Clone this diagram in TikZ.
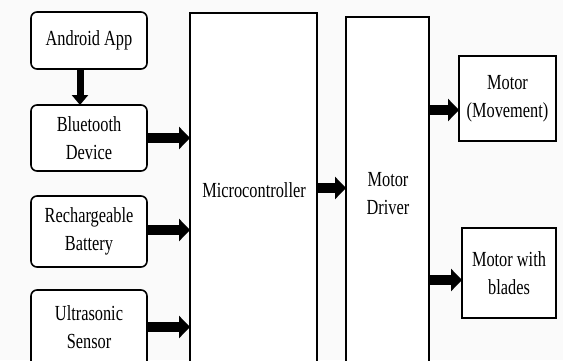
\documentclass[tikz,border=0pt]{standalone}
\usepackage{fontspec}
\setmainfont[FakeStretch=0.76]{Liberation Serif}
\usetikzlibrary{arrows.meta}
\begin{document}
\begin{tikzpicture}[x=1pt,y=-1pt,
  every node/.style={font=\fontsize{21.5}{28}\selectfont, align=center},
  rbox/.style={draw, line width=1.6pt, fill=white, rounded corners=6pt},
  sbox/.style={draw, line width=1.6pt, fill=white},
  fat/.style={line width=10pt, -{Triangle[length=11pt,width=22pt]}},
]
  % canvas
  \fill[black!2] (0,0) rectangle (563,360);
  \useasboundingbox (0,0) rectangle (563,360);

  % input blocks (rounded)
  \draw[rbox] (31,12) rectangle (147,69);
  \node (app) at (89,40.5) {Android App};
  \coordinate (appS) at (80,69);
  \draw[rbox] (31,105) rectangle (147,171);
  \node (bt) at (89,138) {Bluetooth\\Device};
  \coordinate (btN) at (80,105);
  \coordinate (btE) at (147,138);
  \draw[rbox] (31,196) rectangle (147,267);
  \node (bat) at (89,231) {Rechargeable\\Battery};
  \coordinate (batE) at (147,230);
  \draw[rbox] (31,290) rectangle (147,380);
  \node (us) at (89,327) {Ultrasonic\\Sensor};
  \coordinate (usE) at (147,327);

  % controller and driver
  \draw[sbox] (190,13) rectangle (317,375);
  \node (mc) at (254,190) {Microcontroller};
  \coordinate (mcW1) at (190,138);
  \coordinate (mcW2) at (190,230);
  \coordinate (mcW3) at (190,327);
  \coordinate (mcE) at (317,188);
  \draw[sbox] (346,17) rectangle (429,375);
  \node (drv) at (388,194) {Motor\\Driver};
  \coordinate (drvW) at (346,188);
  \coordinate (drvE1) at (429,110);
  \coordinate (drvE2) at (429,280);

  % outputs (square corners)
  \draw[sbox] (459,56) rectangle (556,141);
  \node (mov) at (507.5,98.5) {Motor\\(Movement)};
  \coordinate (movW) at (459,110);
  \draw[sbox] (462,228) rectangle (556,318);
  \node (bl) at (509,273) {Motor with\\blades};
  \coordinate (blW) at (462,280);

  % connectors
  \draw[line width=7pt, -{Triangle[length=10pt,width=16pt]}] (appS) -- (btN);
  \draw[fat] (btE) -- (mcW1);
  \draw[fat] (batE) -- (mcW2);
  \draw[fat] (usE) -- (mcW3);
  \draw[fat] (mcE) -- (drvW);
  \draw[fat] (drvE1) -- (movW);
  \draw[fat] (drvE2) -- (blW);
\end{tikzpicture}
\end{document}
